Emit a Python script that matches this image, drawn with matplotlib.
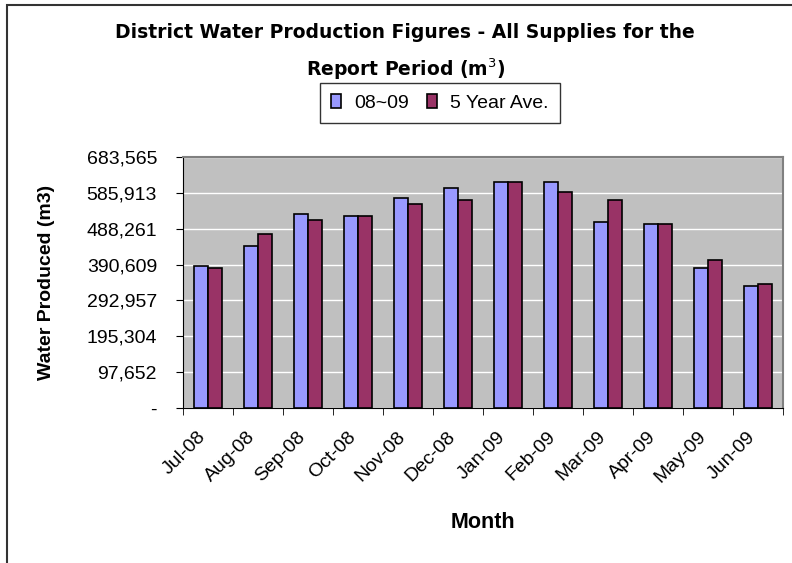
import numpy as np
import matplotlib.pyplot as plt
from matplotlib.patches import Rectangle
from matplotlib.ticker import FixedLocator
from matplotlib.transforms import ScaledTranslation

months = ['Jul-08', 'Aug-08', 'Sep-08', 'Oct-08', 'Nov-08', 'Dec-08',
          'Jan-09', 'Feb-09', 'Mar-09', 'Apr-09', 'May-09', 'Jun-09']
prod_0809 = [385900, 440300, 527400, 521900, 571000, 598200,
             614500, 614500, 506500, 500200, 380400, 332200]
prod_5yr = [380400, 472900, 511900, 521900, 555500, 566400,
            614500, 588200, 565500, 500200, 403000, 337700]
ytick_vals = [0, 97652, 195304, 292957, 390609, 488261, 585913, 683565]
ytick_labels = ['-', '97,652', '195,304', '292,957', '390,609',
                '488,261', '585,913', '683,565']

plt.rcParams['font.family'] = ['Liberation Sans', 'DejaVu Sans']

fig = plt.figure(figsize=(7.92, 5.63), dpi=100)
ax = fig.add_axes([183/792, 1-408/563, 600/792, 251/563])

x = np.arange(len(months))
w = 0.28
ax.bar(x - w/2, prod_0809, w, color='#9999FF', edgecolor='black', linewidth=1.2,
       label='08~09', zorder=3)
ax.bar(x + w/2, prod_5yr, w, color='#993366', edgecolor='black', linewidth=1.2,
       label='5 Year Ave.', zorder=3)

ax.set_facecolor('#C0C0C0')
ax.set_xlim(-0.5, len(months) - 0.5)
ax.set_ylim(0, ytick_vals[-1])
ax.set_yticks(ytick_vals)
ax.set_yticklabels(ytick_labels, fontsize=14)
ax.yaxis.grid(True, color='white', linewidth=1, zorder=0)
ax.tick_params(axis='y', length=5, direction='out', pad=0)
yshift = ScaledTranslation(-19/100, 0, fig.dpi_scale_trans)
for lbl in ax.get_yticklabels():
    lbl.set_transform(lbl.get_transform() + yshift)

ax.set_xticks(x)
ax.set_xticklabels(months, rotation=45, ha='right', va='center',
                   rotation_mode='anchor', fontsize=14)
ax.tick_params(axis='x', which='major', length=0, pad=19)
xshift = ScaledTranslation(-5/100, 0, fig.dpi_scale_trans)
for lbl in ax.get_xticklabels():
    lbl.set_transform(lbl.get_transform() + xshift)
ax.xaxis.set_minor_locator(FixedLocator(np.arange(-0.5, len(months), 1)))
ax.tick_params(axis='x', which='minor', length=5, direction='out')

for s in ['top', 'right']:
    ax.spines[s].set_color('#808080')
    ax.spines[s].set_linewidth(1.5)
for s in ['left', 'bottom']:
    ax.spines[s].set_color('black')

fig.text(47/792, 1-(157+408)/2/563, 'Water Produced (m3)', rotation=90,
         ha='center', va='center', fontsize=14, fontweight='bold')
fig.text(483/792, 1-523/563, 'Month', ha='center', va='center',
         fontsize=15.5, fontweight='bold')

fig.text(405/792, 1-33/563, 'District Water Production Figures - All Supplies for the',
         ha='center', va='center', fontsize=13.5, fontweight='bold', family='DejaVu Sans')
fig.text(406/792, 1-69/563, 'Report Period (m$^3$)',
         ha='center', va='center', fontsize=13.5, fontweight='bold', family='DejaVu Sans')

ax.legend(loc='center', bbox_to_anchor=(440/792, 1-103/563), bbox_transform=fig.transFigure,
          ncol=2, frameon=True, fancybox=False, edgecolor='black', fontsize=14,
          handlelength=0.5, handleheight=0.7, handletextpad=0.7, columnspacing=0.9,
          borderpad=0.6, borderaxespad=0)

fig.patches.append(Rectangle((7/792, -0.1), 1.2, 1 - 5/563 + 0.1, transform=fig.transFigure,
                             fill=False, edgecolor='#333333', linewidth=1.5))

fig.savefig('out.png', dpi=100)
